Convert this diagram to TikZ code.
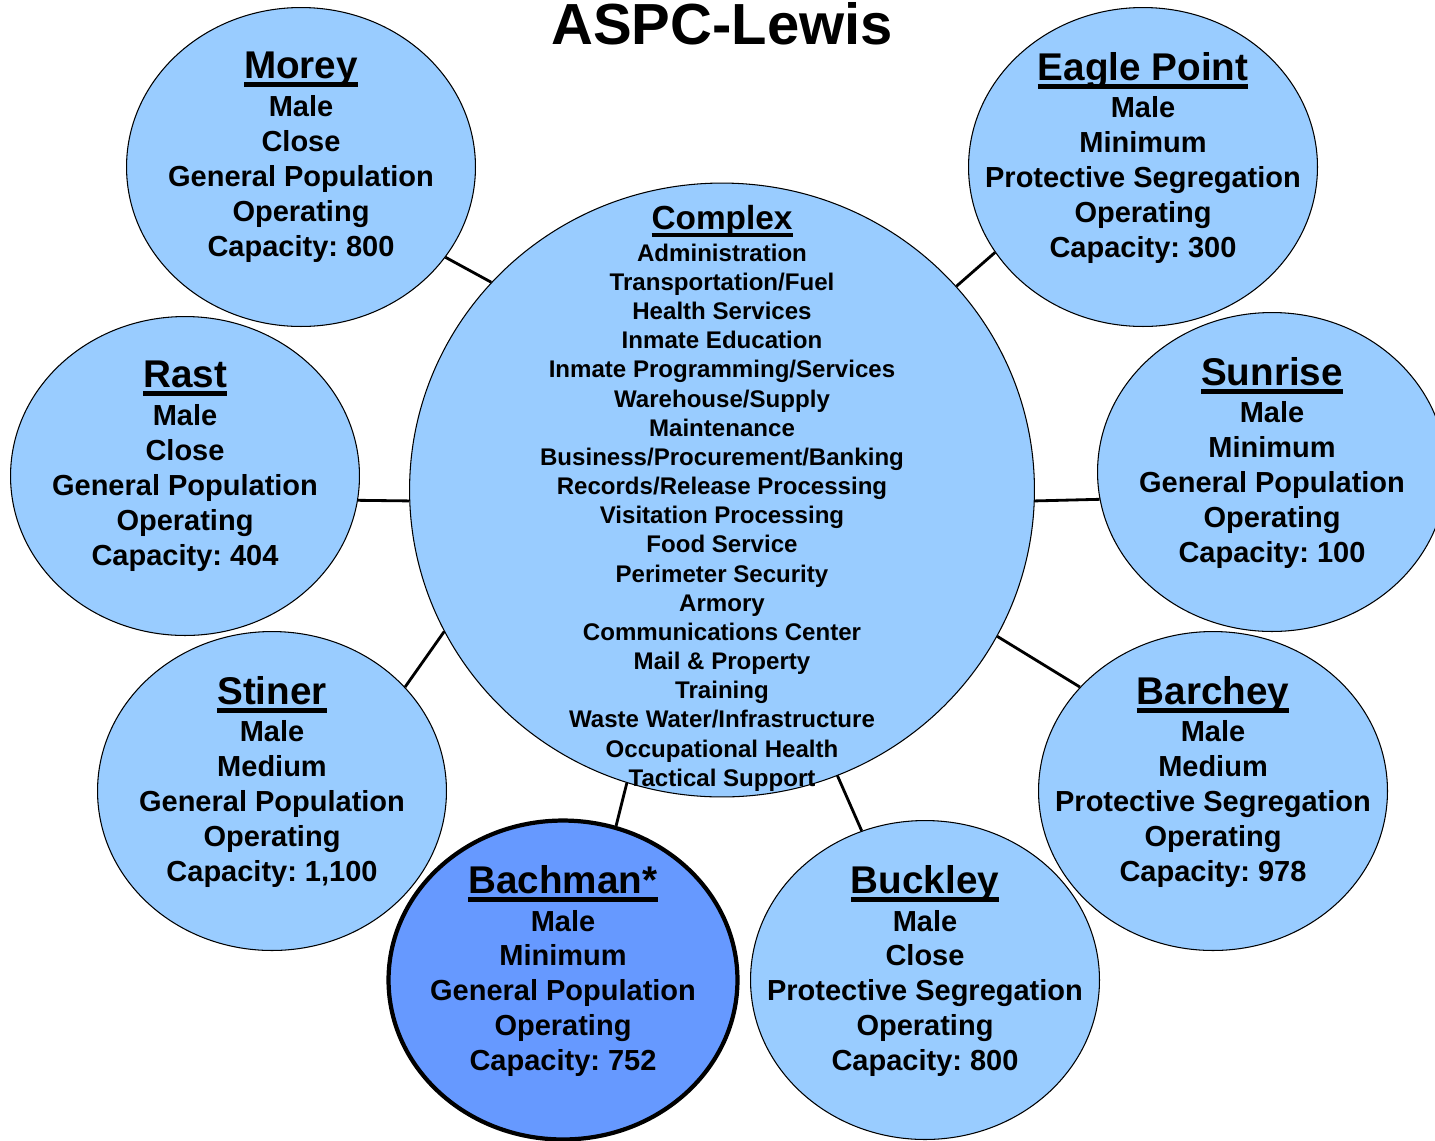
\documentclass[tikz,border=0pt]{standalone}
\usepackage{fontspec}
\setmainfont{Liberation Sans}
\usepackage{xcolor}
\usepackage{tikz}
\usetikzlibrary{math,shapes.geometric}
\definecolor{unitblue}{HTML}{99CCFF}
\definecolor{bachblue}{HTML}{6699FF}
\newcommand\ulhead[1]{\leavevmode\setbox0\hbox{#1}\rlap{\rule[-0.21em]{\wd0}{0.12em}}\box0}
\frenchspacing

\begin{document}
\begin{tikzpicture}[x=0.02cm,y=-0.02cm,
	hub/.style={ellipse,draw,line width=0.6pt,fill=unitblue,inner sep=0pt,minimum width=12.5cm,minimum height=12.28cm},
	unitc/.style={ellipse,draw,line width=0.6pt,fill=unitblue,inner sep=0pt,minimum width=6.98cm,minimum height=6.38cm},
	info/.style={align=center,anchor=north,inner sep=0pt,font=\bfseries\fontsize{16.5}{19.9}\selectfont},
	conn/.style={line width=1.6pt}]
\useasboundingbox (0,0) rectangle (1435,1140);
\tikzmath{
	\ty = 2.3; \tc = 5.7;
	{\node[anchor=north,inner sep=0pt,font=\bfseries\fontsize{33}{40}\selectfont] (title) at (722,2) {ASPC-Lewis};};
	%
	{\node[hub] (c) at (722,490) {};};
	{\node[unitc] (mo) at (301,167) {};};
	{\node[unitc] (ep) at (1143,167) {};};
	{\node[unitc] (ra) at (185,476) {};};
	{\node[unitc] (su) at (1272,472) {};};
	{\node[unitc] (st) at (272,791) {};};
	{\node[unitc] (bc) at (1213,791) {};};
	{\node[unitc] (bu) at (925,980) {};};
	{\node[unitc,fill=bachblue,line width=2.4pt] (ba) at (563,980) {};};
	%
	{\draw[conn] (c.138.9) -- (mo.-32.4);};
	{\draw[conn] (c.41.3) -- (ep.210.7);};
	{\draw[conn] (c.182.2) -- (ra.-8.1);};
	{\draw[conn] (c.-2.2) -- (su.189.6);};
	{\draw[conn] (c.207.9) -- (st.38.7);};
	{\draw[conn] (c.-28) -- (bc.142.2);};
	{\draw[conn] (c.252.5) -- (ba.71.7);};
	{\draw[conn] (c.-68.3) -- (bu.113.7);};
	%
	{\node[info,font=\bfseries\fontsize{13.7}{16.6}\selectfont] (ct) at ([yshift=\tc cm]c.center)
		{{\fontsize{19}{22}\selectfont\ulhead{Complex}}\\[1.4pt]
		Administration\\ Transportation/Fuel\\ Health Services\\ Inmate Education\\
		Inmate Programming/Services\\ Warehouse/Supply\\ Maintenance\\
		Business/Procurement/Banking\\ Records/Release Processing\\
		Visitation Processing\\ Food Service\\ Perimeter Security\\ Armory\\
		Communications Center\\ Mail \& Property\\ Training\\
		Waste Water/Infrastructure\\ Occupational Health\\ Tactical Support};};
	{\node[info] (mot) at ([yshift=\ty cm]mo.center) {{\fontsize{22}{25}\selectfont\ulhead{Morey}}\\[1.5pt]
		Male\\ Close\\ General Population\\ Operating\\ Capacity: 800};};
	{\node[info] (ept) at ([yshift=\ty cm]ep.center) {{\fontsize{22}{25}\selectfont\ulhead{Eagle Point}}\\[1.5pt]
		Male\\ Minimum\\ Protective Segregation\\ Operating\\ Capacity: 300};};
	{\node[info] (rat) at ([yshift=\ty cm]ra.center) {{\fontsize{22}{25}\selectfont\ulhead{Rast}}\\[1.5pt]
		Male\\ Close\\ General Population\\ Operating\\ Capacity: 404};};
	{\node[info] (sut) at ([yshift=\ty cm]su.center) {{\fontsize{22}{25}\selectfont\ulhead{Sunrise}}\\[1.5pt]
		Male\\ Minimum\\ General Population\\ Operating\\ Capacity: 100};};
	{\node[info] (stt) at ([yshift=\ty cm]st.center) {{\fontsize{22}{25}\selectfont\ulhead{Stiner}}\\[1.5pt]
		Male\\ Medium\\ General Population\\ Operating\\ Capacity: 1,100};};
	{\node[info] (bct) at ([yshift=\ty cm]bc.center) {{\fontsize{22}{25}\selectfont\ulhead{Barchey}}\\[1.5pt]
		Male\\ Medium\\ Protective Segregation\\ Operating\\ Capacity: 978};};
	{\node[info] (but) at ([yshift=\ty cm]bu.center) {{\fontsize{22}{25}\selectfont\ulhead{Buckley}}\\[1.5pt]
		Male\\ Close\\ Protective Segregation\\ Operating\\ Capacity: 800};};
	{\node[info] (bat) at ([yshift=\ty cm]ba.center) {{\fontsize{22}{25}\selectfont\ulhead{Bachman*}}\\[1.5pt]
		Male\\ Minimum\\ General Population\\ Operating\\ Capacity: 752};};
};
\end{tikzpicture}
\end{document}
